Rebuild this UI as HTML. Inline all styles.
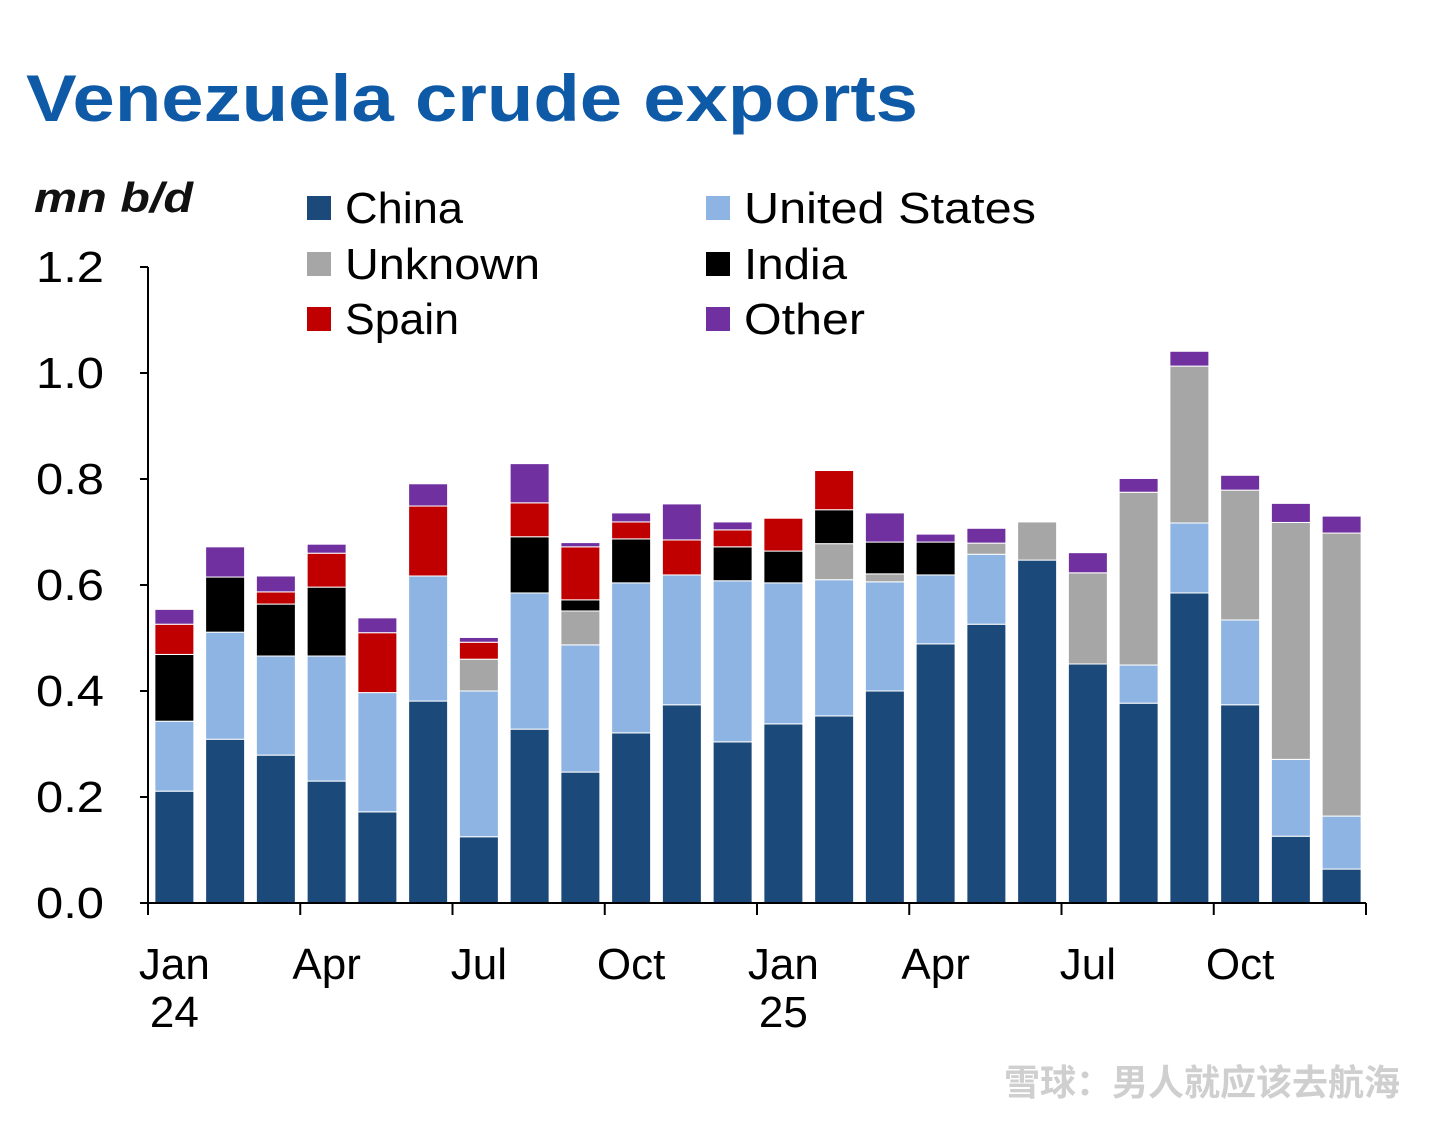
<!DOCTYPE html>
<html><head><meta charset="utf-8"><style>
body{margin:0;background:#fff;width:1439px;height:1125px;overflow:hidden}
svg{display:block}
text{font-family:"Liberation Sans","Noto Sans CJK SC",sans-serif}
</style></head><body>
<svg id="c" width="1439" height="1125">
<text x="26" y="121" font-size="66" font-weight="bold" fill="#0e5aa7" textLength="892" lengthAdjust="spacingAndGlyphs">Venezuela crude exports</text>
<text x="34" y="212" font-size="42" font-weight="bold" font-style="italic" fill="#111" textLength="159" lengthAdjust="spacingAndGlyphs">mn b/d</text>
<g id="legend"></g>
<g id="bars"></g>
<g id="axes"></g>
<text x="1400" y="1095" font-size="36" fill="#cfcfcf" font-weight="bold" text-anchor="end">雪球：男人就应该去航海</text>
</svg>
<script>
const months=["Jan24","Feb24","Mar24","Apr24","May24","Jun24","Jul24","Aug24","Sep24","Oct24","Nov24","Dec24","Jan25","Feb25","Mar25","Apr25","May25","Jun25","Jul25","Aug25","Sep25","Oct25","Nov25","Dec25"];
const china=[0.211,0.309,0.279,0.230,0.172,0.381,0.125,0.328,0.247,0.321,0.374,0.304,0.338,0.353,0.400,0.489,0.526,0.647,0.451,0.377,0.585,0.374,0.126,0.064];
const unitedStates=[0.132,0.202,0.187,0.236,0.225,0.236,0.275,0.257,0.240,0.283,0.245,0.304,0.266,0.257,0.206,0.130,0.132,0,0,0.072,0.132,0.160,0.145,0.100];
const unknown=[0,0,0,0,0,0,0.060,0,0.064,0,0,0,0,0.068,0.015,0,0.021,0.072,0.172,0.326,0.296,0.245,0.447,0.534];
const india=[0.126,0.104,0.098,0.130,0,0,0,0.106,0.021,0.083,0,0.064,0.060,0.064,0.060,0.062,0,0,0,0,0,0,0,0];
const spain=[0.057,0,0.023,0.064,0.113,0.132,0.032,0.064,0.100,0.032,0.066,0.032,0.062,0.074,0,0,0,0,0,0,0,0,0,0];
const other=[0.028,0.057,0.030,0.017,0.028,0.042,0.009,0.074,0.008,0.017,0.068,0.015,0,0,0.055,0.015,0.028,0,0.038,0.026,0.028,0.028,0.036,0.032];
const yTicks=["0.0","0.2","0.4","0.6","0.8","1.0","1.2"];
const xLabels=[["Jan","24"],["Apr",""],["Jul",""],["Oct",""],["Jan","25"],["Apr",""],["Jul",""],["Oct",""]];
const seriesNames=["China","United States","Unknown","India","Spain","Other"];
const NS="http://www.w3.org/2000/svg";
const series=[china,unitedStates,unknown,india,spain,other];
const colors=["#1b4a7a","#8db4e2","#a6a6a6","#000000","#c00000","#7030a0"];
const legendWidths=[118,292,195,103,114,121];
const x0=148,x1=1366,y0=903,pxPer=530;
const pitch=(x1-x0)/months.length,bw=39;
const y=v=>y0-v*pxPer;
const xs=i=>x0+pitch*i+(pitch-bw)/2+1;
function mk(t,a,p){const e=document.createElementNS(NS,t);for(const k in a)e.setAttribute(k,a[k]);p.appendChild(e);return e;}
const bars=document.getElementById('bars'),axes=document.getElementById('axes'),leg=document.getElementById('legend');
months.forEach((m,i)=>{let cum=0;series.forEach((s,j)=>{const v=s[i];if(v>0){const r=mk('rect',{x:xs(i),y:y(cum+v),width:bw,height:v*pxPer,fill:colors[j],stroke:'#fff','stroke-width':1},bars);

}cum+=v;});});
let l=mk('line',{x1:x0,y1:267,x2:x0,y2:y0,stroke:'#000','stroke-width':2},axes);


l=mk('line',{x1:x0,y1:y0,x2:x1,y2:y0,stroke:'#000','stroke-width':2},axes);


yTicks.forEach((t,i)=>{const v=parseFloat(t),yy=y(v);mk('line',{x1:x0-8,y1:yy,x2:x0,y2:yy,stroke:'#000','stroke-width':2},axes);
const tx=mk('text',{x:36,y:yy+15,'font-size':44,textLength:68,lengthAdjust:'spacingAndGlyphs',fill:'#000'},axes);tx.textContent=t;

});
for(let k=0;k<=months.length;k+=3){const xx=x0+pitch*k;mk('line',{x1:xx,y1:y0,x2:xx,y2:y0+12,stroke:'#000','stroke-width':2},axes);}
xLabels.forEach((lb,k)=>{const cx=xs(k*3)+bw/2;const t=mk('text',{x:cx,y:979,'font-size':44,'text-anchor':'middle',fill:'#000'},axes);t.textContent=lb[0];


if(lb[1]){const t2=mk('text',{x:cx,y:1027,'font-size':44,'text-anchor':'middle',fill:'#000'},axes);t2.textContent=lb[1];

}});
const lp=[[307,196],[706,196],[307,252],[706,252],[307,307],[706,307]];
seriesNames.forEach((n,j)=>{const [lx,ly]=lp[j];const g=mk('g',{},leg);


mk('rect',{x:lx,y:ly,width:24,height:24,fill:colors[j]},g);
const t=mk('text',{x:lx+38,y:ly+27,'font-size':44,textLength:legendWidths[j],lengthAdjust:'spacingAndGlyphs',fill:'#000'},g);t.textContent=n;});
</script>
</body></html>
